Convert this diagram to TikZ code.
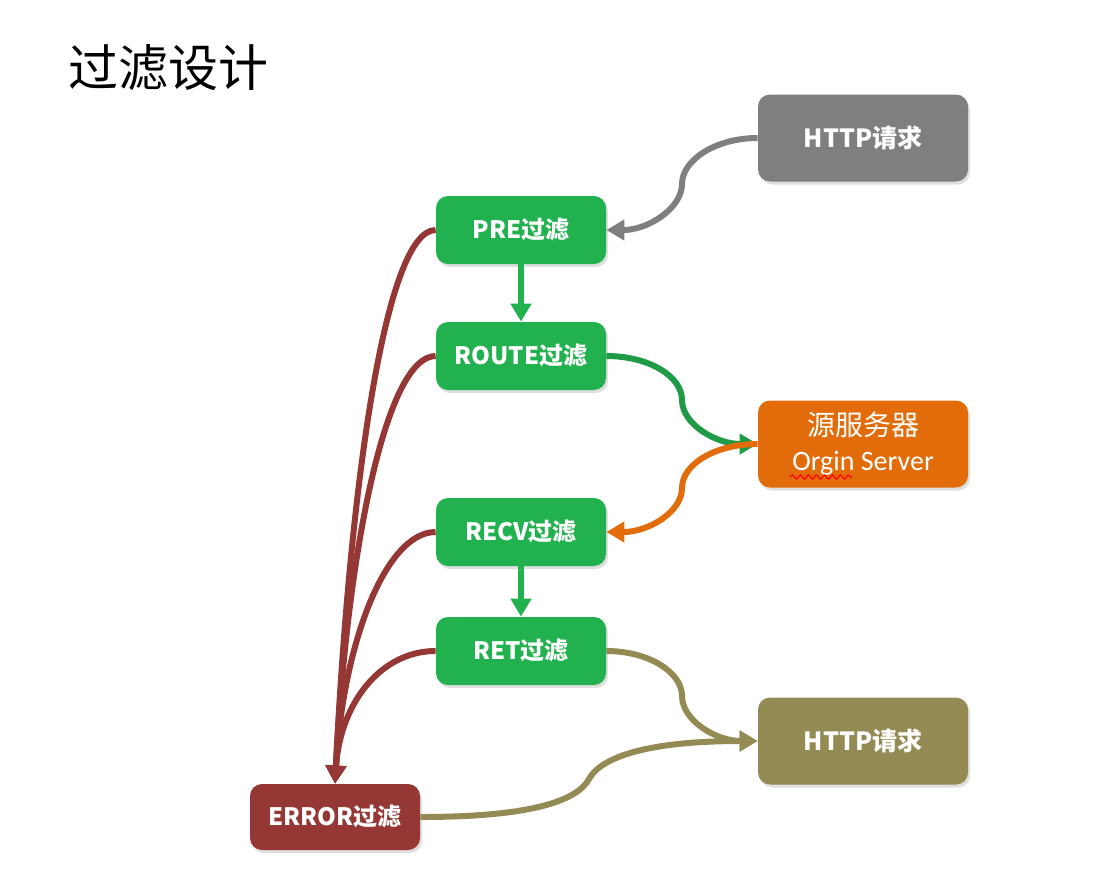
\documentclass[tikz,border=0pt]{standalone}
\usepackage{fontspec}
\setmainfont{Noto Sans CJK SC}
\newfontfamily\latinfont{Carlito}
\usepackage{xcolor}
\usetikzlibrary{arrows.meta,shadows,calc,decorations.pathmorphing}
\definecolor{filter-green}{HTML}{21B24F}
\definecolor{route-green}{HTML}{1F9A47}
\definecolor{request-gray}{HTML}{7F7F7F}
\definecolor{server-orange}{HTML}{E36C0A}
\definecolor{reply-olive}{HTML}{948A54}
\definecolor{error-red}{HTML}{953735}
\tikzset{
    rounded-box/.style = {rectangle, rounded corners=6pt, text=white, inner sep=0pt, drop shadow={opacity=0.25, shadow xshift=1pt, shadow yshift=-1.5pt}},
    filter-box/.style = {rounded-box, fill=filter-green, minimum width=85pt, minimum height=34pt, font=\bfseries\fontsize{12}{14}\selectfont},
    end-box/.style = {rounded-box, minimum width=105pt, minimum height=43.5pt, font=\bfseries\fontsize{12.5}{15}\selectfont},
    flow-line/.style = {line width=3pt, -{Triangle[length=9pt,width=10pt]}},
}

\begin{document}
\begin{tikzpicture}[x=0.5pt, y=-0.5pt]
\useasboundingbox (0,0) rectangle (1118,890);
\node[font=\fontsize{25}{30}\selectfont, inner sep=0pt, anchor=west] (title) at (68,68) {过滤设计};
\node[end-box, fill=request-gray] (http-in) at (863,138) {HTTP请求};
\node[filter-box] (pre) at (521,230) {PRE过滤};
\node[filter-box] (route) at (521,356) {ROUTE过滤};
\node[end-box, fill=server-orange, font=\fontsize{14}{17.5}\selectfont, align=center] (server) at (863,444) {源服务器\\{\latinfont Orgin Server}};
\node[filter-box] (recv) at (521,532) {RECV过滤};
\node[filter-box] (ret) at (521,651) {RET过滤};
\node[end-box, fill=reply-olive] (http-out) at (863,741) {HTTP请求};
\node[filter-box, fill=error-red, minimum height=33pt] (error) at (335,817) {ERROR过滤};
\draw[red, line width=0.6pt, decorate, decoration={snake, amplitude=1pt, segment length=4pt}] ([shift={(-73,33)}]server.center) -- ([shift={(-11,33)}]server.center);

\draw[flow-line, request-gray] (http-in.west) .. controls +(-42,0) and +(0,-24) .. ($(http-in.west)!.5!(pre.east)$) .. controls +(0,24) and +(42,0) .. (pre.east);
\draw[flow-line, filter-green] (pre.south) -- (route.north);
\draw[flow-line, route-green] (route.east) .. controls +(42,0) and +(0,-24) .. ($(route.east)!.5!(server.west)$) .. controls +(0,24) and +(-42,0) .. (server.west);
\draw[flow-line, server-orange] (server.west) .. controls +(-42,0) and +(0,-24) .. ($(server.west)!.5!(recv.east)$) .. controls +(0,24) and +(42,0) .. (recv.east);
\draw[flow-line, filter-green] (recv.south) -- (ret.north);
\draw[flow-line, reply-olive] (ret.east) .. controls +(42,0) and +(0,-24) .. ($(ret.east)!.5!(http-out.west)$) .. controls +(0,24) and +(-42,0) .. (http-out.west);
\draw[flow-line, reply-olive] (error.east) .. controls +(110,0) and +(-12,22) .. ($(error.east)!.5!(http-out.west)$) .. controls +(12,-22) and +(-110,0) .. (http-out.west);

\draw[flow-line, error-red] (pre.west) .. controls +(-50,0) and +(15,-300) .. (error.north);
\draw[flow-line, error-red] (route.west) .. controls +(-50,0) and +(12,-230) .. (error.north);
\draw[flow-line, error-red] (recv.west) .. controls +(-50,0) and +(8,-140) .. (error.north);
\draw[flow-line, error-red] (ret.west) .. controls +(-55,0) and +(5,-80) .. (error.north);
\end{tikzpicture}
\end{document}
